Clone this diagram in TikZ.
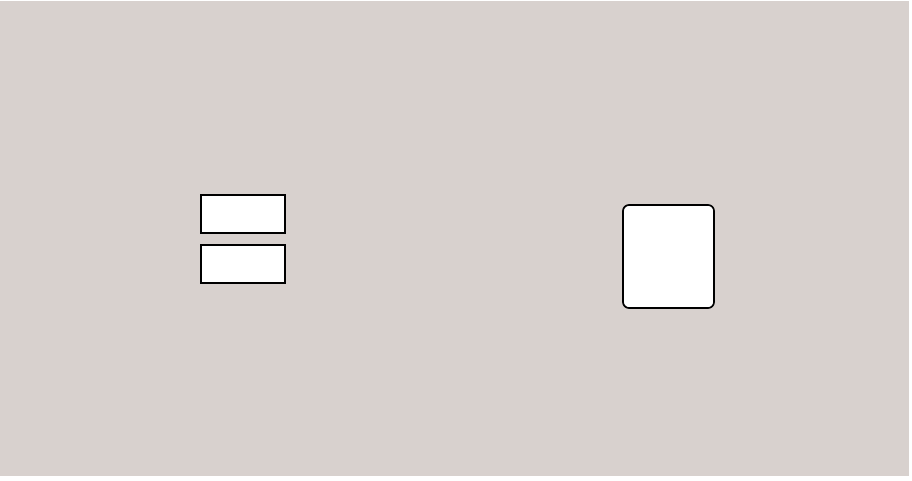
\documentclass[tikz,border=0pt]{standalone}
\usetikzlibrary{positioning}

\definecolor{panelgrey}{RGB}{216,209,206}

\begin{document}
\begin{tikzpicture}[x=0.025cm,y=-0.025cm,node distance=0.3cm,
  thick,slot/.style={rectangle,draw,fill=white,line width=1.2pt,inner sep=0pt,outer sep=0pt,
    minimum width=2.1cm,minimum height=0.95cm},
  port/.style={rectangle,rounded corners=0.15cm,draw,fill=white,line width=1.2pt,inner sep=0pt,
    outer sep=0pt,minimum width=2.275cm,minimum height=2.575cm}]
  \useasboundingbox[fill=white] (0,0) rectangle (912,480);
  \fill[panelgrey] (0,1) rectangle (909,476);
  \node[slot] (slotA) at (243,214) {};
  \node[slot] (slotB) [below=of slotA] {};
  \node[port] (port) at (668.5,256.5) {};
\end{tikzpicture}
\end{document}
